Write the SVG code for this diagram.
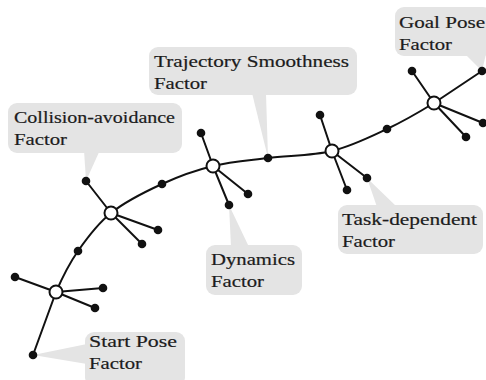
<svg xmlns="http://www.w3.org/2000/svg" width="486" height="380" viewBox="0 0 486 380">
  <style>
    .bubble { fill: #e4e4e4; }
    .label { font-family: "Liberation Serif", "Times New Roman", serif; font-size: 17px; fill: #1c1c1c; stroke: #1c1c1c; stroke-width: 0.2; }
    .edge { stroke: #111; stroke-width: 2; fill: none; stroke-linecap: round; }
    .factor { fill: #111; }
    .var { fill: #fff; stroke: #111; stroke-width: 2; }
  </style>

  <!-- callout bubbles -->
  <g id="callout-collision">
    <rect class="bubble" x="8" y="103" width="174" height="50" rx="9"/>
    <polygon class="bubble" points="84,150 100,150 86,181"/>
    <text class="label" x="14" y="123" textLength="161" lengthAdjust="spacingAndGlyphs">Collision-avoidance</text>
    <text class="label" x="14" y="145" textLength="53" lengthAdjust="spacingAndGlyphs">Factor</text>
  </g>
  <g id="callout-smoothness">
    <rect class="bubble" x="149" y="47" width="208" height="48" rx="9"/>
    <polygon class="bubble" points="252,93 266,93 268,158"/>
    <text class="label" x="154" y="67" textLength="195" lengthAdjust="spacingAndGlyphs">Trajectory Smoothness</text>
    <text class="label" x="154" y="89" textLength="53" lengthAdjust="spacingAndGlyphs">Factor</text>
  </g>
  <g id="callout-goal">
    <rect class="bubble" x="395" y="7" width="97" height="49" rx="9"/>
    <polygon class="bubble" points="465,54 486,54 482,71"/>
    <text class="label" x="399" y="28" textLength="86" lengthAdjust="spacingAndGlyphs">Goal Pose</text>
    <text class="label" x="399" y="50" textLength="53" lengthAdjust="spacingAndGlyphs">Factor</text>
  </g>
  <g id="callout-dynamics">
    <rect class="bubble" x="206" y="245" width="96" height="50" rx="9"/>
    <polygon class="bubble" points="231,247 249,247 229,205"/>
    <text class="label" x="211" y="265" textLength="84" lengthAdjust="spacingAndGlyphs">Dynamics</text>
    <text class="label" x="211" y="287" textLength="53" lengthAdjust="spacingAndGlyphs">Factor</text>
  </g>
  <g id="callout-task">
    <rect class="bubble" x="338" y="205" width="145" height="49" rx="9"/>
    <polygon class="bubble" points="377,207 397,207 367,178"/>
    <text class="label" x="342" y="225" textLength="135" lengthAdjust="spacingAndGlyphs">Task-dependent</text>
    <text class="label" x="342" y="247" textLength="53" lengthAdjust="spacingAndGlyphs">Factor</text>
  </g>
  <g id="callout-start">
    <rect class="bubble" x="85" y="332" width="100" height="54" rx="9"/>
    <polygon class="bubble" points="87,344 87,364 33,355"/>
    <text class="label" x="89" y="347" textLength="88" lengthAdjust="spacingAndGlyphs">Start Pose</text>
    <text class="label" x="89" y="369" textLength="53" lengthAdjust="spacingAndGlyphs">Factor</text>
  </g>

  <!-- connectors: trajectory chain and factor spokes -->
  <g id="connectors">
    <path class="edge" d="M56,292 C63.5,274.7 68.8,264.2 78,251 C87.2,237.8 97,224.2 111,213 C125,201.8 145,191.8 162,184 C179,176.2 195.3,170.3 213,166 C230.7,161.7 248.2,160.5 268,158 C287.8,155.5 312.2,155.8 332,151 C351.8,146.2 370,137 387,129 C404,121 418.2,112.7 434,103"/>
    <line class="edge" x1="56" y1="292" x2="33" y2="355"/>
    <line class="edge" x1="56" y1="292" x2="15" y2="277"/>
    <line class="edge" x1="56" y1="292" x2="103" y2="288"/>
    <line class="edge" x1="56" y1="292" x2="95" y2="308"/>
    <line class="edge" x1="111" y1="213" x2="86" y2="181"/>
    <line class="edge" x1="111" y1="213" x2="158" y2="230"/>
    <line class="edge" x1="111" y1="213" x2="142" y2="244"/>
    <line class="edge" x1="213" y1="166" x2="201" y2="133"/>
    <line class="edge" x1="213" y1="166" x2="248" y2="194"/>
    <line class="edge" x1="213" y1="166" x2="229" y2="205"/>
    <line class="edge" x1="332" y1="151" x2="320" y2="115"/>
    <line class="edge" x1="332" y1="151" x2="367" y2="178"/>
    <line class="edge" x1="332" y1="151" x2="347" y2="190"/>
    <line class="edge" x1="434" y1="103" x2="412" y2="71"/>
    <line class="edge" x1="434" y1="103" x2="482" y2="71"/>
    <line class="edge" x1="434" y1="103" x2="483" y2="123"/>
    <line class="edge" x1="434" y1="103" x2="466" y2="137"/>
  </g>

  <!-- factor nodes -->
  <g id="f-start"><circle class="factor" cx="33" cy="355" r="4.3"/></g>
  <g id="f-x1a"><circle class="factor" cx="15" cy="277" r="4.3"/></g>
  <g id="f-x1b"><circle class="factor" cx="103" cy="288" r="4.3"/></g>
  <g id="f-x1c"><circle class="factor" cx="95" cy="308" r="4.3"/></g>
  <g id="f-s12"><circle class="factor" cx="78" cy="251" r="4.3"/></g>
  <g id="f-collision"><circle class="factor" cx="86" cy="181" r="4.3"/></g>
  <g id="f-x2b"><circle class="factor" cx="158" cy="230" r="4.3"/></g>
  <g id="f-x2c"><circle class="factor" cx="142" cy="244" r="4.3"/></g>
  <g id="f-s23"><circle class="factor" cx="162" cy="184" r="4.3"/></g>
  <g id="f-x3a"><circle class="factor" cx="201" cy="133" r="4.3"/></g>
  <g id="f-x3b"><circle class="factor" cx="248" cy="194" r="4.3"/></g>
  <g id="f-dynamics"><circle class="factor" cx="229" cy="205" r="4.3"/></g>
  <g id="f-smooth"><circle class="factor" cx="268" cy="158" r="4.3"/></g>
  <g id="f-x4a"><circle class="factor" cx="320" cy="115" r="4.3"/></g>
  <g id="f-task"><circle class="factor" cx="367" cy="178" r="4.3"/></g>
  <g id="f-x4c"><circle class="factor" cx="347" cy="190" r="4.3"/></g>
  <g id="f-s45"><circle class="factor" cx="387" cy="129" r="4.3"/></g>
  <g id="f-x5a"><circle class="factor" cx="412" cy="71" r="4.3"/></g>
  <g id="f-goal"><circle class="factor" cx="482" cy="71" r="4.3"/></g>
  <g id="f-x5c"><circle class="factor" cx="483" cy="123" r="4.3"/></g>
  <g id="f-x5d"><circle class="factor" cx="466" cy="137" r="4.3"/></g>

  <!-- state variable nodes -->
  <g id="x1"><circle class="var" cx="56" cy="292" r="6.5"/></g>
  <g id="x2"><circle class="var" cx="111" cy="213" r="6.5"/></g>
  <g id="x3"><circle class="var" cx="213" cy="166" r="6.5"/></g>
  <g id="x4"><circle class="var" cx="332" cy="151" r="6.5"/></g>
  <g id="x5"><circle class="var" cx="434" cy="103" r="6.5"/></g>
</svg>
